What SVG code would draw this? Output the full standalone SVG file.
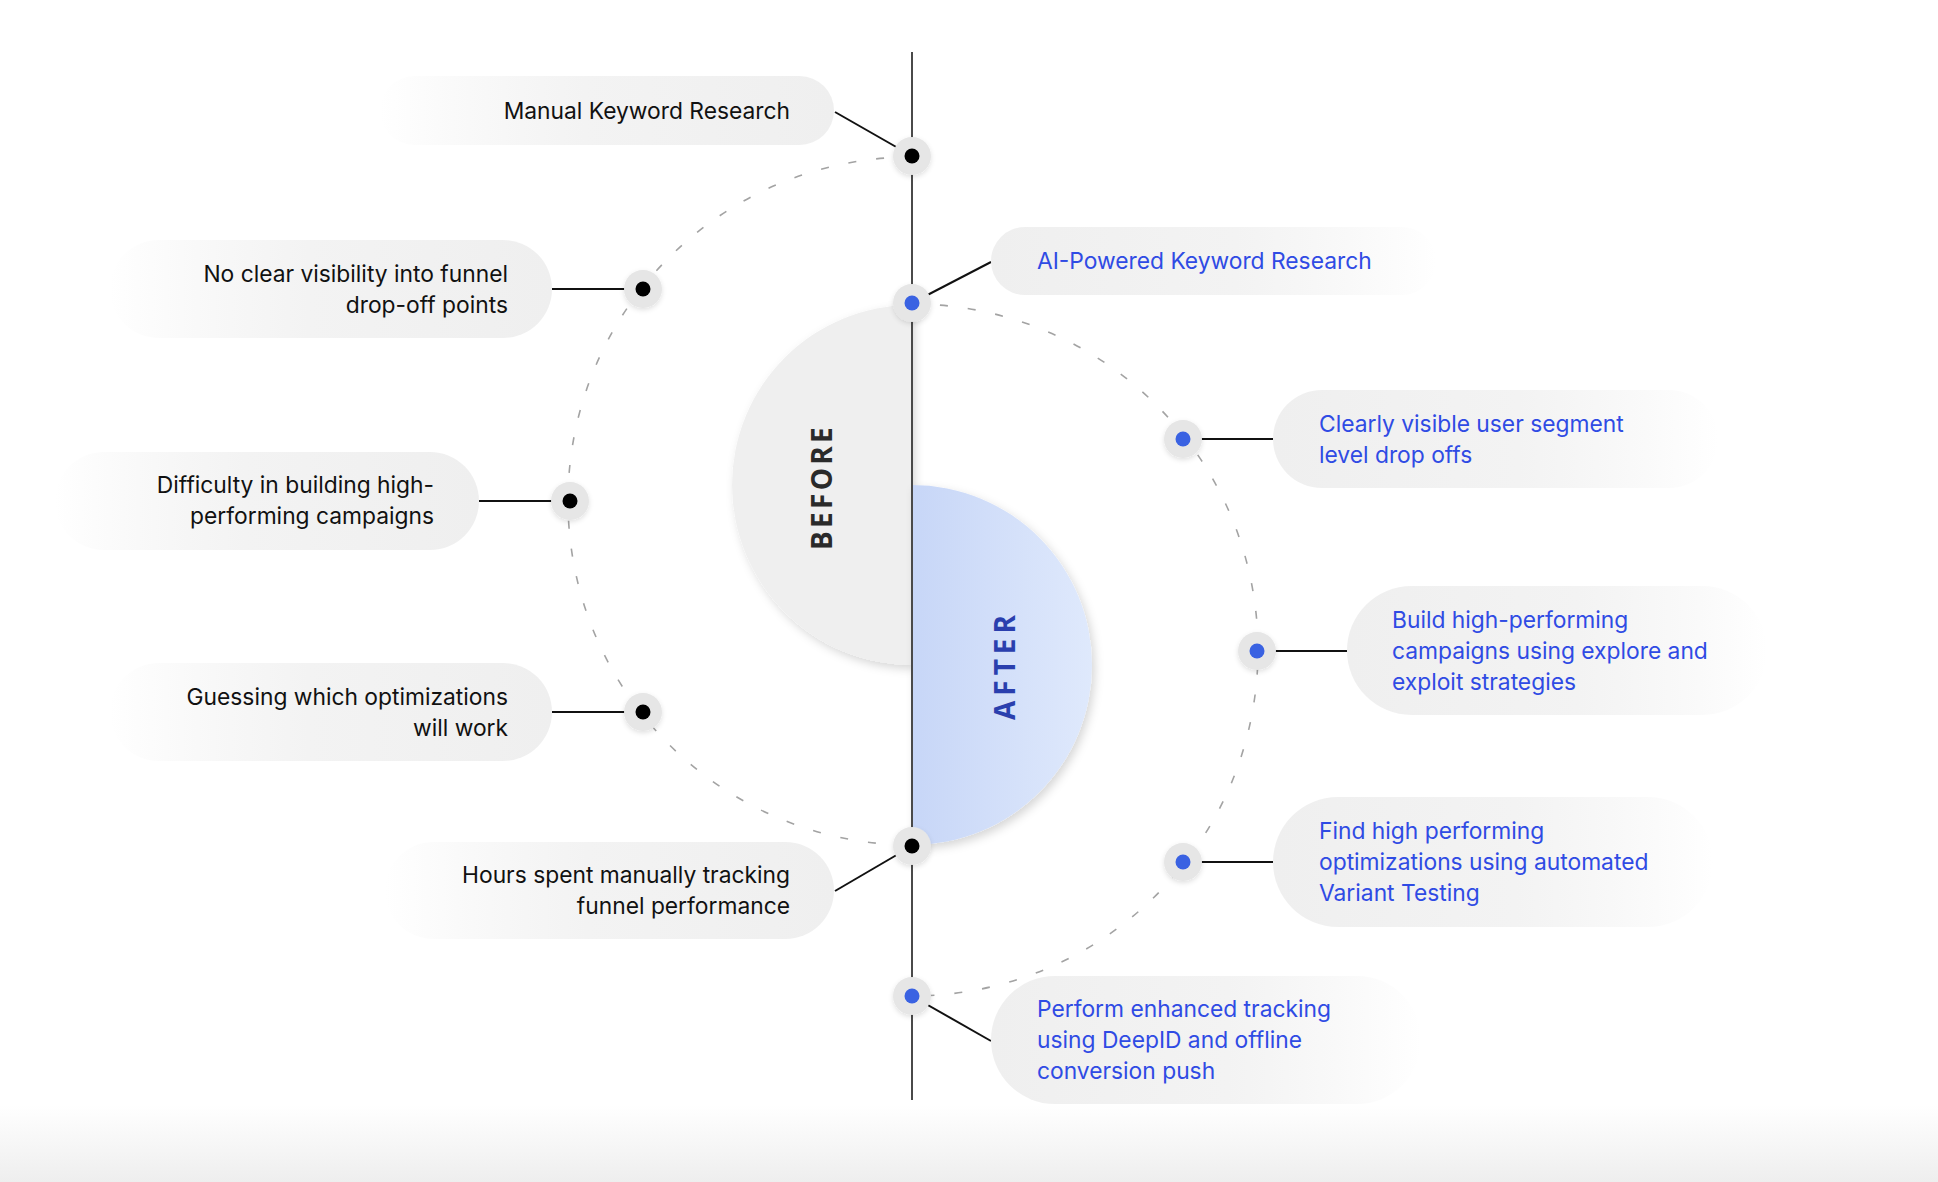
<svg xmlns="http://www.w3.org/2000/svg" width="1938" height="1182" viewBox="0 0 1938 1182">
  <defs>
    <linearGradient id="pillL" x1="0" y1="0" x2="1" y2="0">
      <stop offset="0" stop-color="#f0f0f0" stop-opacity="0"/>
      <stop offset="0.45" stop-color="#f3f3f3" stop-opacity="1"/>
      <stop offset="1" stop-color="#efefef"/>
    </linearGradient>
    <linearGradient id="pillR" x1="0" y1="0" x2="1" y2="0">
      <stop offset="0" stop-color="#efefef"/>
      <stop offset="0.55" stop-color="#f3f3f3" stop-opacity="1"/>
      <stop offset="1" stop-color="#f0f0f0" stop-opacity="0"/>
    </linearGradient>
    <linearGradient id="afterFill" x1="0" y1="0" x2="1" y2="0">
      <stop offset="0" stop-color="#c7d6f7"/>
      <stop offset="1" stop-color="#dfe9fc"/>
    </linearGradient>
    <linearGradient id="floor" x1="0" y1="0" x2="0" y2="1">
      <stop offset="0" stop-color="#ffffff"/>
      <stop offset="1" stop-color="#eeeeee"/>
    </linearGradient>
    <filter id="discShadow" x="-30%" y="-30%" width="160%" height="160%">
      <feDropShadow dx="3" dy="4" stdDeviation="5" flood-color="#000" flood-opacity="0.16"/>
    </filter>
    <filter id="dotShadow" x="-50%" y="-50%" width="200%" height="200%">
      <feDropShadow dx="0" dy="2" stdDeviation="2.5" flood-color="#000" flood-opacity="0.12"/>
    </filter>
  </defs>
  <style>
    .pillL { fill: url(#pillL); }
    .pillR { fill: url(#pillR); }
    .t { font-family: Inter, "Liberation Sans", sans-serif; font-size: 22.8px; }
    .tl { fill: #111111; text-anchor: end; }
    .tr { fill: #2f4be4; text-anchor: start; }
    .ring { fill: #e6e6e6; filter: url(#dotShadow); }
    .dk { fill: #000000; }
    .bl { fill: #3a62e2; }
    .conn { stroke: #111111; stroke-width: 2; fill: none; }
    .dash { stroke: #a3a3a3; stroke-width: 1.6; fill: none; stroke-dasharray: 8 20; }
    .big { font-family: "Open Sans", "Noto Sans", sans-serif; font-size: 28px; font-weight: 700; letter-spacing: 5px; text-anchor: middle; }
    .big.bf { letter-spacing: 3.3px; }
  </style>

  <rect x="0" y="0" width="1938" height="1182" fill="#ffffff"/>
  <rect x="0" y="1105" width="1938" height="77" fill="url(#floor)"/>

  <g id="arcs">
    <path class="dash" d="M912,157 A344,344 0 0 0 912,845"/>
    <path class="dash" d="M912,304 A346,346 0 0 1 912,996"/>
  </g>

  <g id="before">
    <path d="M912,305 A180,180 0 0 0 912,665 Z" fill="#efefef" filter="url(#discShadow)"/>
    <text class="big bf" fill="#2a2a2a" transform="translate(832,487) rotate(-90)">BEFORE</text>
  </g>
  <g id="after">
    <path d="M912,485 A180,180 0 0 1 912,845 Z" fill="url(#afterFill)" filter="url(#discShadow)"/>
    <text class="big" fill="#2a3fae" transform="translate(1015,665) rotate(-90)">AFTER</text>
  </g>

  <g id="axis">
    <line x1="912" y1="52" x2="912" y2="1100" stroke="#4a4a4a" stroke-width="2"/>
  </g>

  <g id="connectors">
    <line class="conn" x1="835" y1="112" x2="912" y2="156"/>
    <line class="conn" x1="552" y1="289" x2="643" y2="289"/>
    <line class="conn" x1="479" y1="501" x2="570" y2="501"/>
    <line class="conn" x1="552" y1="712" x2="643" y2="712"/>
    <line class="conn" x1="835" y1="891" x2="912" y2="846"/>
    <line class="conn" x1="991" y1="262" x2="912" y2="303"/>
    <line class="conn" x1="1183" y1="439" x2="1273" y2="439"/>
    <line class="conn" x1="1257" y1="651" x2="1347" y2="651"/>
    <line class="conn" x1="1183" y1="862" x2="1273" y2="862"/>
    <line class="conn" x1="912" y1="996" x2="991" y2="1041"/>
  </g>

  <g id="node-manual-keyword">
    <rect class="pillL" x="380" y="76" width="454" height="69" rx="34.5"/>
    <text class="t tl" x="790" y="119">Manual Keyword Research</text>
    <circle class="ring" cx="912" cy="156" r="19"/>
    <circle class="dk" cx="912" cy="156" r="7.5"/>
  </g>

  <g id="node-no-visibility">
    <rect class="pillL" x="110" y="240" width="442" height="98" rx="49"/>
    <text class="t tl" x="508" y="282">No clear visibility into funnel</text>
    <text class="t tl" x="508" y="313">drop-off points</text>
    <circle class="ring" cx="643" cy="289" r="19"/>
    <circle class="dk" cx="643" cy="289" r="7.5"/>
  </g>

  <g id="node-difficulty">
    <rect class="pillL" x="55" y="452" width="424" height="98" rx="49"/>
    <text class="t tl" x="434" y="493">Difficulty in building high-</text>
    <text class="t tl" x="434" y="524">performing campaigns</text>
    <circle class="ring" cx="570" cy="501" r="19"/>
    <circle class="dk" cx="570" cy="501" r="7.5"/>
  </g>

  <g id="node-guessing">
    <rect class="pillL" x="110" y="663" width="442" height="98" rx="49"/>
    <text class="t tl" x="508" y="705">Guessing which optimizations</text>
    <text class="t tl" x="508" y="736">will work</text>
    <circle class="ring" cx="643" cy="712" r="19"/>
    <circle class="dk" cx="643" cy="712" r="7.5"/>
  </g>

  <g id="node-hours">
    <rect class="pillL" x="385" y="842" width="449" height="97" rx="48.5"/>
    <text class="t tl" x="790" y="883">Hours spent manually tracking</text>
    <text class="t tl" x="790" y="914">funnel performance</text>
    <circle class="ring" cx="912" cy="846" r="19"/>
    <circle class="dk" cx="912" cy="846" r="7.5"/>
  </g>

  <g id="node-ai-keyword">
    <rect class="pillR" x="991" y="227" width="445" height="68" rx="34"/>
    <text class="t tr" x="1037" y="269">AI-Powered Keyword Research</text>
    <circle class="ring" cx="912" cy="303" r="19"/>
    <circle class="bl" cx="912" cy="303" r="7.5"/>
  </g>

  <g id="node-clearly-visible">
    <rect class="pillR" x="1273" y="390" width="445" height="98" rx="49"/>
    <text class="t tr" x="1319" y="432">Clearly visible user segment</text>
    <text class="t tr" x="1319" y="463">level drop offs</text>
    <circle class="ring" cx="1183" cy="439" r="19"/>
    <circle class="bl" cx="1183" cy="439" r="7.5"/>
  </g>

  <g id="node-build">
    <rect class="pillR" x="1347" y="586" width="420" height="129" rx="64.5"/>
    <text class="t tr" x="1392" y="628">Build high-performing</text>
    <text class="t tr" x="1392" y="659">campaigns using explore and</text>
    <text class="t tr" x="1392" y="690">exploit strategies</text>
    <circle class="ring" cx="1257" cy="651" r="19"/>
    <circle class="bl" cx="1257" cy="651" r="7.5"/>
  </g>

  <g id="node-find">
    <rect class="pillR" x="1273" y="797" width="440" height="130" rx="65"/>
    <text class="t tr" x="1319" y="839">Find high performing</text>
    <text class="t tr" x="1319" y="870">optimizations using automated</text>
    <text class="t tr" x="1319" y="901">Variant Testing</text>
    <circle class="ring" cx="1183" cy="862" r="19"/>
    <circle class="bl" cx="1183" cy="862" r="7.5"/>
  </g>

  <g id="node-perform">
    <rect class="pillR" x="991" y="976" width="430" height="128" rx="64"/>
    <text class="t tr" x="1037" y="1017">Perform enhanced tracking</text>
    <text class="t tr" x="1037" y="1048">using DeepID and offline</text>
    <text class="t tr" x="1037" y="1079">conversion push</text>
    <circle class="ring" cx="912" cy="996" r="19"/>
    <circle class="bl" cx="912" cy="996" r="7.5"/>
  </g>
</svg>
